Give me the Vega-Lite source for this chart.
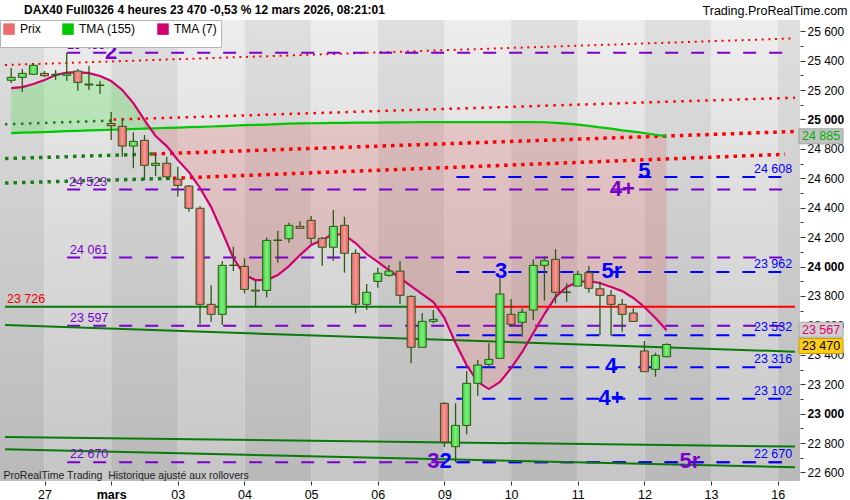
{
"$schema": "https://vega.github.io/schema/vega-lite/v6.json",
"width": 800,
"height": 461,
"autosize": {"type": "none"},
"padding": {"left": 0, "top": 20, "right": 50, "bottom": 19},
"background": "white",
"config": {
  "view": {"stroke": null},
  "font": "Liberation Sans",
  "locale": {"number": {"decimal": ",", "thousands": " ", "grouping": [3], "currency": ["", " €"]}},
  "axis": {"grid": false, "labelOverlap": false}
},
"title": {"text": "DAX40 Full0326 4 heures 23 470 -0,53 % 12 mars 2026, 08:21:01", "anchor": "start", "frame": "group", "dx": 24, "offset": -13, "fontSize": 12, "fontWeight": "bold", "font": "Liberation Sans", "color": "black"},
"datasets": {
  "days": [
    {"s": -6, "e": 0, "tone": "dark"}, {"s": 0, "e": 6, "tone": "light"}, {"s": 6, "e": 12, "tone": "dark"},
    {"s": 12, "e": 18, "tone": "light"}, {"s": 18, "e": 24, "tone": "dark"}, {"s": 24, "e": 30, "tone": "light"},
    {"s": 30, "e": 36, "tone": "dark"}, {"s": 36, "e": 42, "tone": "light"}, {"s": 42, "e": 48, "tone": "dark"},
    {"s": 48, "e": 54, "tone": "light"}, {"s": 54, "e": 60, "tone": "dark"}, {"s": 60, "e": 66, "tone": "light"},
    {"s": 66, "e": 72, "tone": "dark"}
  ],
  "candles": [
    {"i": -3, "o": 25266, "h": 25349, "l": 25247, "c": 25286, "t155": 24907, "t7": 25213},
    {"i": -2, "o": 25286, "h": 25343, "l": 25186, "c": 25313, "t155": 24910, "t7": 25220},
    {"i": -1, "o": 25307, "h": 25383, "l": 25302, "c": 25368, "t155": 24912, "t7": 25241},
    {"i": 0, "o": 25313, "h": 25329, "l": 25288, "c": 25297, "t155": 24914, "t7": 25268},
    {"i": 1, "o": 25302, "h": 25336, "l": 25268, "c": 25307, "t155": 24917, "t7": 25302},
    {"i": 2, "o": 25300, "h": 25453, "l": 25261, "c": 25311, "t155": 24920, "t7": 25319},
    {"i": 3, "o": 25329, "h": 25343, "l": 25195, "c": 25252, "t155": 24922, "t7": 25322},
    {"i": 4, "o": 25241, "h": 25363, "l": 25200, "c": 25234, "t155": 24925, "t7": 25315},
    {"i": 5, "o": 25234, "h": 25261, "l": 25173, "c": 25231, "t155": 24927, "t7": 25295},
    {"i": 6, "o": 24973, "h": 25050, "l": 24860, "c": 24957, "t155": 24930, "t7": 25261},
    {"i": 7, "o": 24953, "h": 25001, "l": 24746, "c": 24819, "t155": 24932, "t7": 25200},
    {"i": 8, "o": 24819, "h": 24912, "l": 24668, "c": 24851, "t155": 24935, "t7": 25111},
    {"i": 9, "o": 24858, "h": 24894, "l": 24588, "c": 24688, "t155": 24937, "t7": 24996},
    {"i": 10, "o": 24688, "h": 24765, "l": 24615, "c": 24702, "t155": 24940, "t7": 24887},
    {"i": 11, "o": 24702, "h": 24746, "l": 24588, "c": 24610, "t155": 24942, "t7": 24819},
    {"i": 12, "o": 24593, "h": 24678, "l": 24474, "c": 24552, "t155": 24945, "t7": 24724},
    {"i": 13, "o": 24547, "h": 24554, "l": 24373, "c": 24396, "t155": 24948, "t7": 24642},
    {"i": 14, "o": 24396, "h": 24411, "l": 23607, "c": 23743, "t155": 24950, "t7": 24534},
    {"i": 15, "o": 23743, "h": 23872, "l": 23625, "c": 23675, "t155": 24952, "t7": 24404},
    {"i": 16, "o": 23675, "h": 24037, "l": 23602, "c": 24008, "t155": 24955, "t7": 24235},
    {"i": 17, "o": 24010, "h": 24135, "l": 23969, "c": 24007, "t155": 24958, "t7": 24058},
    {"i": 18, "o": 24001, "h": 24056, "l": 23818, "c": 23845, "t155": 24961, "t7": 23942},
    {"i": 19, "o": 23840, "h": 23908, "l": 23727, "c": 23833, "t155": 24963, "t7": 23908},
    {"i": 20, "o": 23838, "h": 24196, "l": 23791, "c": 24178, "t155": 24965, "t7": 23908},
    {"i": 21, "o": 24180, "h": 24241, "l": 24026, "c": 24177, "t155": 24968, "t7": 23942},
    {"i": 22, "o": 24189, "h": 24298, "l": 24162, "c": 24280, "t155": 24971, "t7": 24003},
    {"i": 23, "o": 24273, "h": 24307, "l": 24258, "c": 24260, "t155": 24973, "t7": 24078},
    {"i": 24, "o": 24314, "h": 24343, "l": 24153, "c": 24192, "t155": 24974, "t7": 24146},
    {"i": 25, "o": 24192, "h": 24200, "l": 24005, "c": 24131, "t155": 24975, "t7": 24180},
    {"i": 26, "o": 24131, "h": 24384, "l": 24039, "c": 24273, "t155": 24976, "t7": 24221},
    {"i": 27, "o": 24280, "h": 24339, "l": 23958, "c": 24090, "t155": 24977, "t7": 24214},
    {"i": 28, "o": 24090, "h": 24117, "l": 23682, "c": 23743, "t155": 24978, "t7": 24160},
    {"i": 29, "o": 23743, "h": 23881, "l": 23704, "c": 23825, "t155": 24978, "t7": 24085},
    {"i": 30, "o": 23899, "h": 23992, "l": 23856, "c": 23954, "t155": 24979, "t7": 24031},
    {"i": 31, "o": 23940, "h": 24010, "l": 23931, "c": 23969, "t155": 24980, "t7": 23976},
    {"i": 32, "o": 23969, "h": 24037, "l": 23745, "c": 23804, "t155": 24980, "t7": 23922},
    {"i": 33, "o": 23797, "h": 23804, "l": 23342, "c": 23451, "t155": 24981, "t7": 23867},
    {"i": 34, "o": 23451, "h": 23682, "l": 23451, "c": 23627, "t155": 24982, "t7": 23813},
    {"i": 35, "o": 23627, "h": 23704, "l": 23614, "c": 23641, "t155": 24982, "t7": 23759},
    {"i": 36, "o": 23070, "h": 23077, "l": 22773, "c": 22807, "t155": 24982, "t7": 23650},
    {"i": 37, "o": 22775, "h": 23070, "l": 22670, "c": 22920, "t155": 24982, "t7": 23480},
    {"i": 38, "o": 22920, "h": 23290, "l": 22859, "c": 23206, "t155": 24982, "t7": 23330},
    {"i": 39, "o": 23206, "h": 23364, "l": 23122, "c": 23330, "t155": 24982, "t7": 23215},
    {"i": 40, "o": 23335, "h": 23478, "l": 23315, "c": 23369, "t155": 24982, "t7": 23167},
    {"i": 41, "o": 23376, "h": 23920, "l": 23376, "c": 23813, "t155": 24982, "t7": 23215},
    {"i": 42, "o": 23675, "h": 23779, "l": 23591, "c": 23607, "t155": 24982, "t7": 23310},
    {"i": 43, "o": 23621, "h": 23716, "l": 23523, "c": 23689, "t155": 24982, "t7": 23419},
    {"i": 44, "o": 23704, "h": 24049, "l": 23636, "c": 24008, "t155": 24982, "t7": 23548},
    {"i": 45, "o": 24008, "h": 24071, "l": 23768, "c": 24039, "t155": 24981, "t7": 23677},
    {"i": 46, "o": 24049, "h": 24119, "l": 23750, "c": 23825, "t155": 24976, "t7": 23793},
    {"i": 47, "o": 23827, "h": 23886, "l": 23761, "c": 23823, "t155": 24971, "t7": 23861},
    {"i": 48, "o": 23867, "h": 23971, "l": 23867, "c": 23947, "t155": 24965, "t7": 23895},
    {"i": 49, "o": 23958, "h": 24003, "l": 23822, "c": 23852, "t155": 24956, "t7": 23901},
    {"i": 50, "o": 23849, "h": 23897, "l": 23534, "c": 23804, "t155": 24946, "t7": 23888},
    {"i": 51, "o": 23804, "h": 23840, "l": 23528, "c": 23743, "t155": 24937, "t7": 23861},
    {"i": 52, "o": 23743, "h": 23779, "l": 23557, "c": 23675, "t155": 24926, "t7": 23833},
    {"i": 53, "o": 23684, "h": 23716, "l": 23627, "c": 23627, "t155": 24917, "t7": 23786},
    {"i": 54, "o": 23426, "h": 23494, "l": 23285, "c": 23285, "t155": 24908, "t7": 23725},
    {"i": 55, "o": 23301, "h": 23414, "l": 23251, "c": 23396, "t155": 24896, "t7": 23650},
    {"i": 56, "o": 23387, "h": 23478, "l": 23383, "c": 23470, "t155": 24885, "t7": 23567}
  ],
  "hl": [
    {"p": 25453, "a": 2.04, "b": 67.5, "k": "purple"},
    {"p": 24523, "a": 2.04, "b": 67.5, "k": "purple"},
    {"p": 24061, "a": 2.04, "b": 67.5, "k": "purple"},
    {"p": 23597, "a": 2.04, "b": 67.5, "k": "purple"},
    {"p": 22670, "a": 2.04, "b": 67.5, "k": "purple"},
    {"p": 24608, "a": 37.07, "b": 67.5, "k": "blue"},
    {"p": 23962, "a": 37.07, "b": 67.5, "k": "blue"},
    {"p": 23532, "a": 37.07, "b": 67.5, "k": "blue"},
    {"p": 23316, "a": 37.07, "b": 67.5, "k": "blue"},
    {"p": 23102, "a": 37.07, "b": 67.5, "k": "blue"},
    {"p": 22670, "a": 37.07, "b": 67.5, "k": "blue"},
    {"p": 23726, "a": 33.07, "b": 67.5556, "k": "red"},
    {"p": 23726, "a": -3.5556, "b": 33.07, "k": "green"}
  ],
  "sl": [
    {"a": -3.5556, "pa": 23602, "b": 67.5556, "pb": 23421, "k": "gs"},
    {"a": -3.5556, "pa": 22841, "b": 67.5556, "pb": 22776, "k": "gs"},
    {"a": -3.5556, "pa": 22757, "b": 67.5556, "pb": 22635, "k": "gs"},
    {"a": -3.5556, "pa": 25370, "b": 67.5556, "pb": 25551, "k": "r1"},
    {"a": -3.5556, "pa": 24967, "b": 6.22, "pb": 24993, "k": "g2"},
    {"a": 6.22, "pa": 24999, "b": 67.5556, "pb": 25148, "k": "r2"},
    {"a": -3.5556, "pa": 24734, "b": 9.78, "pb": 24765, "k": "g3"},
    {"a": 9.78, "pa": 24765, "b": 67.5556, "pb": 24918, "k": "r3"},
    {"a": -3.5556, "pa": 24568, "b": 11.56, "pb": 24600, "k": "g3"},
    {"a": 11.56, "pa": 24600, "b": 66.67, "pb": 24763, "k": "r3"}
  ],
  "vl": [
    {"p": 25453, "i": 2.04, "k": "purple"},
    {"p": 24523, "i": 2.2, "k": "purple"},
    {"p": 24061, "i": 2.3, "k": "purple"},
    {"p": 23597, "i": 2.3, "k": "purple"},
    {"p": 22670, "i": 2.3, "k": "purple"},
    {"p": 24608, "i": 67.3, "k": "blue"},
    {"p": 23962, "i": 67.3, "k": "blue"},
    {"p": 23532, "i": 67.3, "k": "blue"},
    {"p": 23316, "i": 67.3, "k": "blue"},
    {"p": 23102, "i": 67.3, "k": "blue"},
    {"p": 22670, "i": 67.3, "k": "blue"},
    {"p": 23726, "i": -3.38, "k": "red"}
  ],
  "tags": [
    {"t": "2", "i": 6.0, "p": 25453, "k": "purple"},
    {"t": "4+", "i": 52.0, "p": 24523, "k": "purple"},
    {"t": "3", "i": 35.0, "p": 22670, "k": "purple"},
    {"t": "5r", "i": 58.1, "p": 22670, "k": "purple"},
    {"t": "5", "i": 54.0, "p": 24640, "k": "blue"},
    {"t": "3", "i": 41.1, "p": 23962, "k": "blue"},
    {"t": "5r", "i": 51.07, "p": 23962, "k": "blue"},
    {"t": "4", "i": 51.0, "p": 23316, "k": "blue"},
    {"t": "4+", "i": 51.0, "p": 23102, "k": "blue"},
    {"t": "2", "i": 36.1, "p": 22670, "k": "blue"}
  ],
  "boxes": [
    {"p": 24885, "k": "t155"},
    {"p": 23567, "k": "t7"},
    {"p": 23470, "k": "last"}
  ]
},
"layer": [
  {
    "data": {"name": "days"},
    "transform": [{"filter": "datum.tone == 'light'"}],
    "mark": {"type": "rect", "clip": true, "fill": {"gradient": "linear", "x1": 0, "y1": 0, "x2": 0, "y2": 1, "stops": [{"offset": 0, "color": "#ededed"}, {"offset": 1, "color": "#c6c6c6"}]}},
    "encoding": {
      "x": {"field": "s", "type": "quantitative", "scale": {"domain": [-3.5556, 67.5556], "nice": false, "zero": false},
        "axis": {"values": [0, 6, 12, 18, 24, 30, 36, 42, 48, 54, 60, 66], "tickCount": 40,
          "labelExpr": "['27','mars','03','04','05','06','09','10','11','12','13','16'][round(datum.value/6)]",
          "labelFontWeight": {"condition": {"test": "datum.value == 6", "value": "bold"}, "value": "normal"},
          "tickSize": 4, "tickColor": "#333333", "labelFontSize": 12.5, "labelColor": "black", "labelPadding": 3,
          "domain": false, "grid": false, "labelFlush": false, "labelOverlap": false, "zindex": 2,
          "title": "ProRealTime Trading\u00a0 Historique ajusté aux rollovers",
          "titleX": 3, "titleY": -6, "titleAlign": "left", "titleAnchor": "start", "titleBaseline": "middle",
          "titleFontSize": 10.5, "titleFontWeight": "normal", "titleColor": "#222222"}},
      "x2": {"field": "e"}
    }
  },
  {
    "data": {"name": "days"},
    "transform": [{"filter": "datum.tone == 'dark'"}],
    "mark": {"type": "rect", "clip": true, "fill": {"gradient": "linear", "x1": 0, "y1": 0, "x2": 0, "y2": 1, "stops": [{"offset": 0, "color": "#dfdfdf"}, {"offset": 1, "color": "#b9b9b9"}]}},
    "encoding": {"x": {"field": "s", "type": "quantitative"}, "x2": {"field": "e"}}
  },
  {
    "data": {"name": "candles"},
    "transform": [{"filter": "datum.i <= 10"}],
    "mark": {"type": "area", "color": "#33dd33", "opacity": 0.25},
    "encoding": {"x": {"field": "i", "type": "quantitative"}, "y": {"field": "t7", "type": "quantitative"}, "y2": {"field": "t155"}}
  },
  {
    "data": {"name": "candles"},
    "transform": [{"filter": "datum.i >= 9"}],
    "mark": {"type": "area", "color": "#e04a4a", "opacity": 0.2},
    "encoding": {"x": {"field": "i", "type": "quantitative"}, "y": {"field": "t7", "type": "quantitative"}, "y2": {"field": "t155"}}
  },
  {
    "data": {"name": "sl"},
    "transform": [{"filter": "datum.k == 'r1'"}],
    "mark": {"type": "rule", "color": "#ff0000", "strokeWidth": 2, "strokeDash": [2, 4.7]},
    "encoding": {"x": {"field": "a", "type": "quantitative"}, "x2": {"field": "b"}, "y": {"field": "pa", "type": "quantitative"}, "y2": {"field": "pb"}}
  },
  {
    "data": {"name": "sl"},
    "transform": [{"filter": "datum.k == 'r2'"}],
    "mark": {"type": "rule", "color": "#ff0000", "strokeWidth": 2.5, "strokeDash": [2.5, 5.5]},
    "encoding": {"x": {"field": "a", "type": "quantitative"}, "x2": {"field": "b"}, "y": {"field": "pa", "type": "quantitative"}, "y2": {"field": "pb"}}
  },
  {
    "data": {"name": "sl"},
    "transform": [{"filter": "datum.k == 'g2'"}],
    "mark": {"type": "rule", "color": "#168016", "strokeWidth": 2.5, "strokeDash": [2.5, 5.5]},
    "encoding": {"x": {"field": "a", "type": "quantitative"}, "x2": {"field": "b"}, "y": {"field": "pa", "type": "quantitative"}, "y2": {"field": "pb"}}
  },
  {
    "data": {"name": "sl"},
    "transform": [{"filter": "datum.k == 'r3'"}],
    "mark": {"type": "rule", "color": "#ff0000", "strokeWidth": 3.5, "strokeDash": [3.5, 5]},
    "encoding": {"x": {"field": "a", "type": "quantitative"}, "x2": {"field": "b"}, "y": {"field": "pa", "type": "quantitative"}, "y2": {"field": "pb"}}
  },
  {
    "data": {"name": "sl"},
    "transform": [{"filter": "datum.k == 'g3'"}],
    "mark": {"type": "rule", "color": "#168016", "strokeWidth": 3.5, "strokeDash": [3.5, 5]},
    "encoding": {"x": {"field": "a", "type": "quantitative"}, "x2": {"field": "b"}, "y": {"field": "pa", "type": "quantitative"}, "y2": {"field": "pb"}}
  },
  {
    "data": {"name": "hl"},
    "transform": [{"filter": "datum.k == 'purple'"}],
    "mark": {"type": "rule", "color": "#7a00cc", "strokeWidth": 2, "strokeDash": [13, 13]},
    "encoding": {"x": {"field": "a", "type": "quantitative"}, "x2": {"field": "b"}, "y": {"field": "p", "type": "quantitative"}}
  },
  {
    "data": {"name": "hl"},
    "transform": [{"filter": "datum.k == 'blue'"}],
    "mark": {"type": "rule", "color": "#0000ff", "strokeWidth": 2, "strokeDash": [13, 13]},
    "encoding": {"x": {"field": "a", "type": "quantitative"}, "x2": {"field": "b"}, "y": {"field": "p", "type": "quantitative"}}
  },
  {
    "data": {"name": "hl"},
    "transform": [{"filter": "datum.k == 'red'"}],
    "mark": {"type": "rule", "color": "#ff0000", "strokeWidth": 2},
    "encoding": {"x": {"field": "a", "type": "quantitative"}, "x2": {"field": "b"}, "y": {"field": "p", "type": "quantitative"}}
  },
  {
    "data": {"name": "hl"},
    "transform": [{"filter": "datum.k == 'green'"}],
    "mark": {"type": "rule", "color": "#0a7a0a", "strokeWidth": 2},
    "encoding": {"x": {"field": "a", "type": "quantitative"}, "x2": {"field": "b"}, "y": {"field": "p", "type": "quantitative"}}
  },
  {
    "data": {"name": "sl"},
    "transform": [{"filter": "datum.k == 'gs'"}],
    "mark": {"type": "rule", "color": "#0a7a0a", "strokeWidth": 2},
    "encoding": {"x": {"field": "a", "type": "quantitative"}, "x2": {"field": "b"}, "y": {"field": "pa", "type": "quantitative"}, "y2": {"field": "pb"}}
  },
  {
    "data": {"name": "candles"},
    "transform": [{"fold": ["t155", "t7"], "as": ["series", "v"]}],
    "mark": {"type": "line", "strokeWidth": 2.2},
    "encoding": {
      "x": {"field": "i", "type": "quantitative"},
      "y": {"field": "v", "type": "quantitative"},
      "color": {"field": "series", "type": "nominal",
        "scale": {"domain": ["prix", "t155", "t7"], "range": ["#ee6b6b", "#00c800", "#d0006e"]},
        "legend": {"title": null, "orient": "top-left", "direction": "horizontal", "offset": 0, "padding": 3,
          "fillColor": "white", "strokeColor": "#b4b4b4", "symbolType": "square", "symbolSize": 30,
          "symbolStrokeWidth": 6, "labelFontSize": 12, "labelColor": "black", "labelFont": "Liberation Sans",
          "columnPadding": 12, "labelOffset": 5,
          "labelExpr": "datum.value == 'prix' ? 'Prix' : datum.value == 't155' ? 'TMA (155)' : 'TMA (7)'"}}
    }
  },
  {
    "data": {"name": "candles"},
    "mark": {"type": "rule", "color": "#2d5a14", "strokeWidth": 1.3},
    "encoding": {
      "x": {"field": "i", "type": "quantitative"},
      "y": {"field": "l", "type": "quantitative", "scale": {"domain": [22542, 25676], "nice": false, "zero": false},
        "axis": {"orient": "right", "tickCount": 60,
          "values": [22600, 22700, 22800, 22900, 23000, 23100, 23200, 23300, 23400, 23500, 23600, 23700, 23800, 23900, 24000, 24100, 24200, 24300, 24400, 24500, 24600, 24700, 24800, 24900, 25000, 25100, 25200, 25300, 25400, 25500, 25600],
          "labelExpr": "datum.value % 200 == 0 ? replace(format(datum.value, ',d'), ',', ' ') : ''",
          "labelFontWeight": {"condition": {"test": "datum.value % 1000 == 0", "value": "bold"}, "value": "normal"},
          "tickSize": {"condition": {"test": "datum.value % 200 == 0", "value": 5}, "value": 3},
          "labelOverlap": false, "labelFontSize": 12, "labelColor": "black", "labelPadding": 2, "labelFlush": false,
          "tickColor": "#333333", "domain": false, "grid": false,
          "title": "Trading.ProRealTime.com", "titleAngle": 0, "titleX": 47, "titleY": -10, "titleAlign": "right",
          "titleBaseline": "middle", "titleFontSize": 12.5, "titleFontWeight": "normal", "titleColor": "black"}},
      "y2": {"field": "h"}
    }
  },
  {
    "data": {"name": "candles"},
    "transform": [{"filter": "datum.c < datum.o"}],
    "mark": {"type": "bar", "width": 8, "stroke": "#2d5a14", "strokeWidth": 1,
      "fill": {"gradient": "linear", "x1": 0, "y1": 0, "x2": 1, "y2": 0, "stops": [{"offset": 0, "color": "#e45e5e"}, {"offset": 0.5, "color": "#f59898"}, {"offset": 1, "color": "#e45e5e"}]}},
    "encoding": {"x": {"field": "i", "type": "quantitative"}, "y": {"field": "o", "type": "quantitative"}, "y2": {"field": "c"}}
  },
  {
    "data": {"name": "candles"},
    "transform": [{"filter": "datum.c >= datum.o"}],
    "mark": {"type": "bar", "width": 8, "stroke": "#2d5a14", "strokeWidth": 1,
      "fill": {"gradient": "linear", "x1": 0, "y1": 0, "x2": 1, "y2": 0, "stops": [{"offset": 0, "color": "#3fd03f"}, {"offset": 0.5, "color": "#7cf07c"}, {"offset": 1, "color": "#3fd03f"}]}},
    "encoding": {"x": {"field": "i", "type": "quantitative"}, "y": {"field": "o", "type": "quantitative"}, "y2": {"field": "c"}}
  },
  {
    "data": {"name": "vl"},
    "transform": [{"filter": "datum.k == 'purple'"}],
    "mark": {"type": "text", "align": "left", "baseline": "alphabetic", "dy": -4, "fontSize": 12.5, "color": "#7a00cc"},
    "encoding": {"x": {"field": "i", "type": "quantitative"}, "y": {"field": "p", "type": "quantitative"}, "text": {"field": "p", "type": "quantitative", "format": ",d"}}
  },
  {
    "data": {"name": "vl"},
    "transform": [{"filter": "datum.k == 'blue'"}],
    "mark": {"type": "text", "align": "right", "baseline": "alphabetic", "dy": -4, "fontSize": 12.5, "color": "#0000ff"},
    "encoding": {"x": {"field": "i", "type": "quantitative"}, "y": {"field": "p", "type": "quantitative"}, "text": {"field": "p", "type": "quantitative", "format": ",d"}}
  },
  {
    "data": {"name": "vl"},
    "transform": [{"filter": "datum.k == 'red'"}],
    "mark": {"type": "text", "align": "left", "baseline": "alphabetic", "dy": -4, "fontSize": 12.5, "color": "#ee0000"},
    "encoding": {"x": {"field": "i", "type": "quantitative"}, "y": {"field": "p", "type": "quantitative"}, "text": {"field": "p", "type": "quantitative", "format": ",d"}}
  },
  {
    "data": {"name": "tags"},
    "transform": [{"filter": "datum.k == 'purple'"}],
    "mark": {"type": "text", "align": "center", "baseline": "middle", "dy": -1, "fontSize": 22, "fontWeight": "bold", "color": "#7a00cc"},
    "encoding": {"x": {"field": "i", "type": "quantitative"}, "y": {"field": "p", "type": "quantitative"}, "text": {"field": "t"}}
  },
  {
    "data": {"name": "tags"},
    "transform": [{"filter": "datum.k == 'blue'"}],
    "mark": {"type": "text", "align": "center", "baseline": "middle", "dy": -1, "fontSize": 22, "fontWeight": "bold", "color": "#0000ff"},
    "encoding": {"x": {"field": "i", "type": "quantitative"}, "y": {"field": "p", "type": "quantitative"}, "text": {"field": "t"}}
  },
  {
    "data": {"name": "boxes"},
    "transform": [{"filter": "datum.k == 't155'"}],
    "mark": {"type": "tick", "orient": "horizontal", "size": 44, "thickness": 15, "color": "#c2c2c2", "opacity": 1, "stroke": "#a0a0a0", "strokeWidth": 1},
    "encoding": {"x": {"datum": 69.9, "type": "quantitative"}, "y": {"field": "p", "type": "quantitative"}}
  },
  {
    "data": {"name": "boxes"},
    "transform": [{"filter": "datum.k == 't7'"}],
    "mark": {"type": "tick", "orient": "horizontal", "size": 44, "thickness": 15, "color": "#cfcfcf", "opacity": 1, "stroke": "#a8a8a8", "strokeWidth": 1, "yOffset": -0.5},
    "encoding": {"x": {"datum": 69.9, "type": "quantitative"}, "y": {"field": "p", "type": "quantitative"}}
  },
  {
    "data": {"name": "boxes"},
    "transform": [{"filter": "datum.k == 'last'"}],
    "mark": {"type": "tick", "orient": "horizontal", "size": 44, "thickness": 15, "color": "#ffcc1a", "opacity": 1, "stroke": "#c89a00", "strokeWidth": 1, "yOffset": 1.5},
    "encoding": {"x": {"datum": 69.9, "type": "quantitative"}, "y": {"field": "p", "type": "quantitative"}}
  },
  {
    "data": {"name": "boxes"},
    "transform": [{"filter": "datum.k == 't155'"}],
    "mark": {"type": "text", "align": "center", "baseline": "middle", "fontSize": 12.5, "color": "#00b000"},
    "encoding": {"x": {"datum": 69.9, "type": "quantitative"}, "y": {"field": "p", "type": "quantitative"}, "text": {"field": "p", "type": "quantitative", "format": ",d"}}
  },
  {
    "data": {"name": "boxes"},
    "transform": [{"filter": "datum.k == 't7'"}],
    "mark": {"type": "text", "align": "center", "baseline": "middle", "fontSize": 12.5, "color": "#e0006e", "yOffset": -0.5},
    "encoding": {"x": {"datum": 69.9, "type": "quantitative"}, "y": {"field": "p", "type": "quantitative"}, "text": {"field": "p", "type": "quantitative", "format": ",d"}}
  },
  {
    "data": {"name": "boxes"},
    "transform": [{"filter": "datum.k == 'last'"}],
    "mark": {"type": "text", "align": "center", "baseline": "middle", "fontSize": 12.5, "color": "black", "yOffset": 1.5},
    "encoding": {"x": {"datum": 69.9, "type": "quantitative"}, "y": {"field": "p", "type": "quantitative"}, "text": {"field": "p", "type": "quantitative", "format": ",d"}}
  }
]
}
